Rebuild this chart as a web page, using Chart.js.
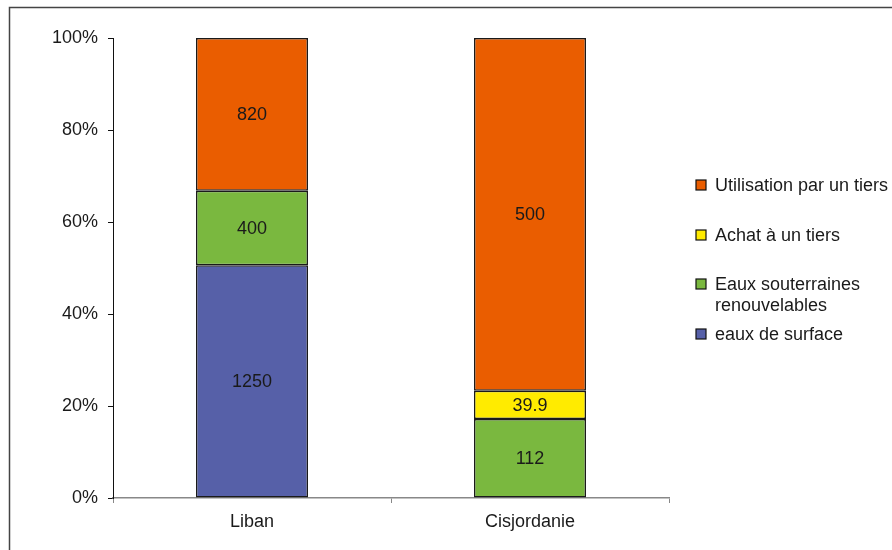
<!DOCTYPE html>
<html>
<head>
<meta charset="utf-8">
<script src="https://cdn.jsdelivr.net/npm/chart.js@4/dist/chart.umd.min.js"></script>
<style>
  html, body { margin: 0; padding: 0; background: #fff; }
  #wrap { position: relative; width: 892px; height: 550px; }
  canvas { display: block; }
</style>
</head>
<body>
<div id="wrap"><canvas id="c" width="892" height="550"></canvas></div>
<script>
// Water resources by origin (million m³), shown as share of each total
const categories = ['Liban', 'Cisjordanie'];
const surfaceWater = [1250, null];          // eaux de surface
const groundwater = [400, 112];             // eaux souterraines renouvelables
const boughtWater = [null, 39.9];           // achat à un tiers
const thirdPartyUse = [820, 500];           // utilisation par un tiers
const yTicks = [0, 20, 40, 60, 80, 100];

const seriesNames = ['eaux de surface', 'Eaux souterraines renouvelables', 'Achat à un tiers', 'Utilisation par un tiers'];
const seriesColors = ['#5660A8', '#7AB83F', '#FFEB00', '#EA5D00'];
const seriesValues = [surfaceWater, groundwater, boughtWater, thirdPartyUse];

const totals = categories.map((_, i) => seriesValues.reduce((s, arr) => s + (arr[i] || 0), 0));
const toPct = arr => arr.map((v, i) => v == null ? null : v / totals[i] * 100);

const FONT = '"Liberation Sans", Arial, sans-serif';
const FSIZE = 18;
const TEXT = '#1a1a1a';

const datasets = seriesValues.map((vals, k) => ({
  label: seriesNames[k],
  data: toPct(vals),
  raw: vals,
  backgroundColor: seriesColors[k],
  borderColor: '#1a1a1a',
  borderWidth: 1.5,
  borderSkipped: false,
  categoryPercentage: 1,
  barPercentage: 0.403
}));

// Value labels in the middle of each segment
const segmentLabels = {
  id: 'segmentLabels',
  afterDatasetsDraw(chart) {
    const ctx = chart.ctx;
    ctx.save();
    ctx.font = FSIZE + 'px ' + FONT;
    ctx.fillStyle = TEXT;
    ctx.textAlign = 'center';
    ctx.textBaseline = 'middle';
    chart.data.datasets.forEach((ds, di) => {
      const meta = chart.getDatasetMeta(di);
      meta.data.forEach((bar, i) => {
        const v = ds.raw[i];
        if (v == null) return;
        const mid = (bar.y + bar.base) / 2;
        ctx.fillText(String(v), bar.x, mid + 1);
      });
    });
    ctx.restore();
  }
};

// Legend on the right side, listed top-down from the last series
const sideLegend = {
  id: 'sideLegend',
  afterDraw(chart) {
    const ctx = chart.ctx;
    const items = [
      { k: 3, lines: ['Utilisation par un tiers'], y: 185 },
      { k: 2, lines: ['Achat à un tiers'], y: 235 },
      { k: 1, lines: ['Eaux souterraines', 'renouvelables'], y: 284 },
      { k: 0, lines: ['eaux de surface'], y: 334 }
    ];
    ctx.save();
    ctx.font = FSIZE + 'px ' + FONT;
    ctx.textBaseline = 'middle';
    ctx.textAlign = 'left';
    items.forEach(it => {
      ctx.fillStyle = seriesColors[it.k];
      ctx.fillRect(696, it.y - 5, 10, 10);
      ctx.strokeStyle = '#111';
      ctx.lineWidth = 1.2;
      ctx.strokeRect(696, it.y - 5, 10, 10);
      ctx.fillStyle = TEXT;
      it.lines.forEach((t, j) => ctx.fillText(t, 715, it.y + 1 + j * 21));
    });
    ctx.restore();
  }
};

// Outer frame (top and left edges)
const frame = {
  id: 'frame',
  afterDraw(chart) {
    const ctx = chart.ctx;
    ctx.save();
    ctx.strokeStyle = '#444';
    ctx.lineWidth = 1.5;
    ctx.beginPath();
    ctx.moveTo(892, 7.5);
    ctx.lineTo(9.5, 7.5);
    ctx.lineTo(9.5, 550);
    ctx.stroke();
    ctx.restore();
  }
};

new Chart(document.getElementById('c'), {
  type: 'bar',
  data: { labels: categories, datasets },
  options: {
    responsive: false,
    animation: false,
    events: [],
    layout: { padding: { left: 0, right: 223, top: 38, bottom: 0 } },
    plugins: { legend: { display: false }, tooltip: { enabled: false } },
    scales: {
      x: {
        stacked: true,
        offset: true,
        grid: { display: true, drawOnChartArea: false, drawTicks: true, tickLength: 5, color: '#888', offset: true },
        border: { display: true, color: '#888', width: 1.5 },
        ticks: { color: TEXT, font: { family: FONT, size: FSIZE }, padding: 8 },
        afterFit(scale) { scale.height = 52; }
      },
      y: {
        stacked: true,
        min: 0,
        max: 100,
        afterBuildTicks(scale) { scale.ticks = yTicks.map(v => ({ value: v })); },
        grid: { display: true, drawOnChartArea: false, drawTicks: true, tickLength: 5, color: '#111' },
        border: { display: true, color: '#111', width: 1 },
        ticks: { color: TEXT, font: { family: FONT, size: FSIZE }, padding: 10, callback: v => v + '%' },
        afterFit(scale) { scale.width = 113; }
      }
    }
  },
  plugins: [segmentLabels, sideLegend, frame]
});
</script>
</body>
</html>
